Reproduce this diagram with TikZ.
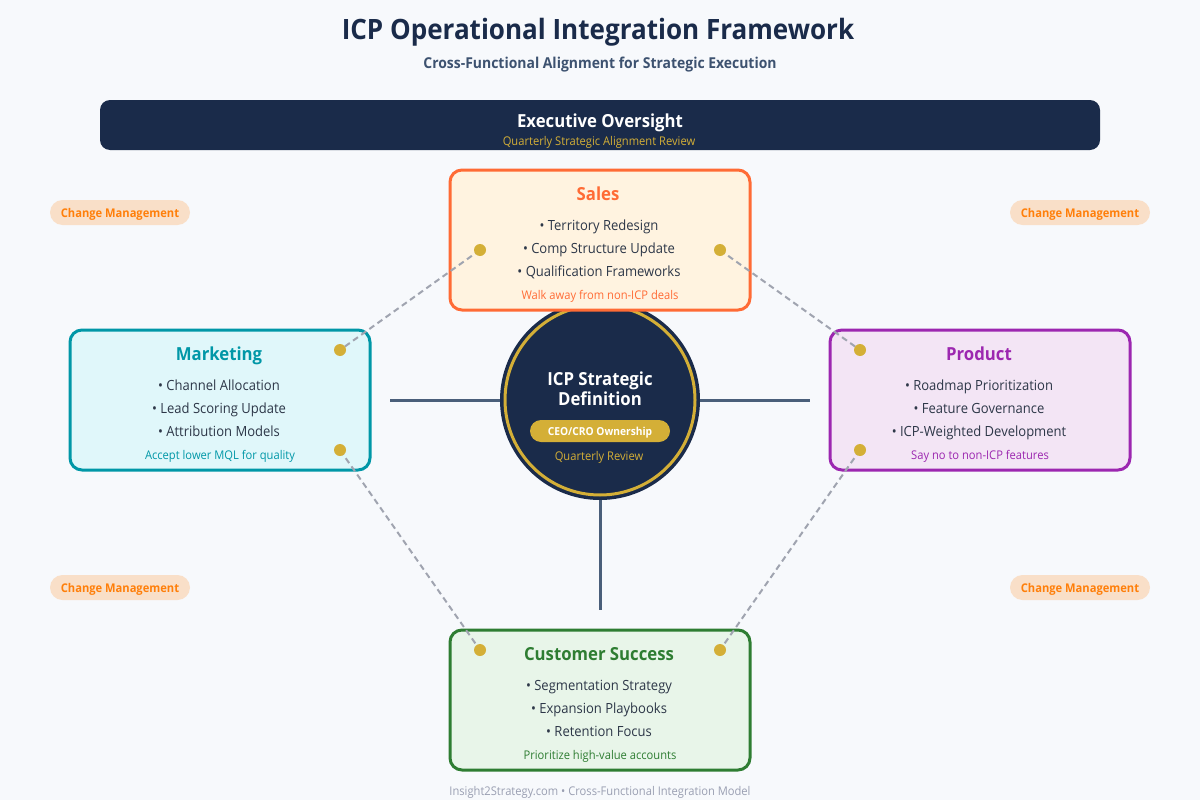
\documentclass[tikz,border=0pt]{standalone}
\usepackage{fontspec}
\setmainfont{Open Sans}[FakeStretch=0.93,BoldFeatures={FakeStretch=0.93}]
\definecolor{bgc}{HTML}{F7F9FC}
\definecolor{navy}{HTML}{1A2B4A}
\definecolor{gold}{HTML}{D4AF37}
\definecolor{slate}{HTML}{4A5F7A}
\definecolor{subc}{HTML}{3D5270}
\definecolor{ink}{HTML}{2D3748}
\definecolor{dashc}{HTML}{A0A4B0}
\definecolor{foot}{HTML}{9A9FB2}
\definecolor{salesc}{HTML}{FF6B35}\definecolor{salesf}{HTML}{FFF3E0}
\definecolor{mktc}{HTML}{0097A7}\definecolor{mktf}{HTML}{E0F7FA}
\definecolor{prodc}{HTML}{9C27B0}\definecolor{prodf}{HTML}{F3E5F5}
\definecolor{csc}{HTML}{2E7D32}\definecolor{csf}{HTML}{E8F5E9}
\definecolor{pillf}{HTML}{F9DFC8}\definecolor{pillt}{HTML}{FF7F0A}
\newcommand{\fsz}[1]{\fontsize{#1}{#1}\selectfont}
\tikzset{
  txt/.style={anchor=base,inner sep=0pt,outer sep=0pt},
  titletxt/.style={txt,font=\fsz{28}\bfseries,text=navy},
  subtxt/.style={txt,font=\fsz{15}\bfseries,text=subc},
  headtxt/.style={txt,font=\fsz{18}\bfseries},
  itemtxt/.style={txt,font=\fsz{14},text=ink},
  notetxt/.style={txt,font=\fsz{12}},
  deptbox/.style={rectangle,rounded corners=12pt,line width=3pt,minimum width=300pt,minimum height=140pt,inner sep=0pt},
  pillbox/.style={rectangle,rounded corners=12.5pt,fill=pillf,minimum width=140pt,minimum height=25pt,inner sep=0pt},
  pilltxt/.style={txt,font=\fsz{12}\bfseries,text=pillt},
  dotn/.style={circle,fill=gold,minimum size=12pt,inner sep=0pt},
  spoke/.style={draw=slate,line width=3pt},
  dashlink/.style={draw=dashc,line width=2pt,dash pattern=on 6pt off 4pt},
}
\begin{document}
\begin{tikzpicture}[x=1pt,y=-1pt]
\useasboundingbox (0,0) rectangle (1200,800);
\fill[bgc] (0,0) rectangle (1200,800);
\node[titletxt] (title) at (598,40) {ICP Operational Integration Framework};
\node[subtxt] (subtitle) at (600,69) {Cross-Functional Alignment for Strategic Execution};
\node[rectangle,rounded corners=10pt,fill=navy,minimum width=1000pt,minimum height=50pt,inner sep=0pt] (exec) at (600,125) {};
\node[headtxt,text=white] (exect) at (600,128) {Executive Oversight};
\node[notetxt,text=gold] (execs) at (599,145) {Quarterly Strategic Alignment Review};
% hub and spokes
\node[circle,fill=navy,minimum size=200pt,inner sep=0pt] (hub) at (600,400) {};
\coordinate (sl) at (390,400);
\coordinate (sr) at (810,400);
\coordinate (sb) at (600,610);
\draw[spoke] (hub.west) -- (sl);
\draw[spoke] (hub.east) -- (sr);
\draw[spoke] (hub.south) -- (sb);
\node[circle,draw=gold,line width=3pt,minimum size=190pt,inner sep=0pt] (ring) at (600,400) {};
\node[headtxt,text=white] (hub1) at (600,385) {ICP Strategic};
\node[headtxt,text=white] (hub2) at (600,405) {Definition};
\node[rectangle,rounded corners=11pt,fill=gold,minimum width=140pt,minimum height=22pt,inner sep=0pt] (own) at (600,431) {};
\node[txt,font=\fsz{11}\bfseries,text=white] (ownt) at (600,435) {CEO/CRO Ownership};
\node[notetxt,text=gold] (rev) at (599,460) {Quarterly Review};
% boxes
\node[deptbox,draw=salesc,fill=salesf] (sales) at (600,240) {};
\node[deptbox,draw=mktc,fill=mktf] (mkt) at (220,400) {};
\node[deptbox,draw=prodc,fill=prodf] (prod) at (980,400) {};
\node[deptbox,draw=csc,fill=csf] (cs) at (600,700) {};
% Sales
\node[headtxt,text=salesc] at (598,200) {Sales};
\node[itemtxt] at (599,230) {• Territory Redesign};
\node[itemtxt] at (599,253) {• Comp Structure Update};
\node[itemtxt] at (599,276) {• Qualification Frameworks};
\node[notetxt,text=salesc] at (600,299) {Walk away from non-ICP deals};
% Marketing
\node[headtxt,text=mktc] at (219,360) {Marketing};
\node[itemtxt] at (219,390) {• Channel Allocation};
\node[itemtxt] at (219,413) {• Lead Scoring Update};
\node[itemtxt] at (219,436) {• Attribution Models};
\node[notetxt,text=mktc] at (220,459) {Accept lower MQL for quality};
% Product
\node[headtxt,text=prodc] at (979,360) {Product};
\node[itemtxt] at (979,390) {• Roadmap Prioritization};
\node[itemtxt] at (979,413) {• Feature Governance};
\node[itemtxt] at (979,436) {• ICP-Weighted Development};
\node[notetxt,text=prodc] at (980,459) {Say no to non-ICP features};
% Customer Success
\node[headtxt,text=csc] at (599,660) {Customer Success};
\node[itemtxt] at (599,690) {• Segmentation Strategy};
\node[itemtxt] at (599,713) {• Expansion Playbooks};
\node[itemtxt] at (599,736) {• Retention Focus};
\node[notetxt,text=csc] at (600,759) {Prioritize high-value accounts};
% dots and links
\coordinate (a1) at (480,250);
\coordinate (a2) at (720,250);
\coordinate (b1) at (340,350);
\coordinate (b2) at (860,350);
\coordinate (c1) at (340,450);
\coordinate (c2) at (860,450);
\coordinate (e1) at (480,650);
\coordinate (e2) at (720,650);
\draw[dashlink] (a1) -- (b1);
\draw[dashlink] (a2) -- (b2);
\draw[dashlink] (c1) -- (e1);
\draw[dashlink] (c2) -- (e2);
\foreach \p in {a1,a2,b1,b2,c1,c2,e1,e2}{\node[dotn] (dot\p) at (\p) {};}
% change management
\node[pillbox] (p1) at (120,212.5) {};
\node[pillbox] (p2) at (1080,212.5) {};
\node[pillbox] (p3) at (120,587.5) {};
\node[pillbox] (p4) at (1080,587.5) {};
\node[pilltxt] at (120,217) {Change Management};
\node[pilltxt] at (1080,217) {Change Management};
\node[pilltxt] at (120,592) {Change Management};
\node[pilltxt] at (1080,592) {Change Management};
\node[notetxt,text=foot] (footer) at (600,795) {Insight2Strategy.com • Cross-Functional Integration Model};
\end{tikzpicture}
\end{document}
